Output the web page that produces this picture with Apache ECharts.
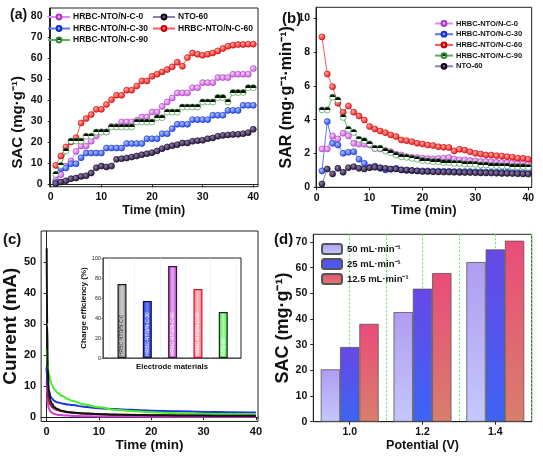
<!DOCTYPE html>
<html><head><meta charset="utf-8">
<script src="https://cdn.jsdelivr.net/npm/echarts@6/dist/echarts.min.js"></script>
<style>html,body{margin:0;padding:0;background:#fff}#c{width:543px;height:456px}</style>
</head><body><div id="c"></div>
<script>
// ---------- DATA ----------
const timeAB = [1,2,3,4,5,6,7,8,9,10,11,12,13,14,15,16,17,18,19,20,21,22,23,24,25,26,27,28,29,30,31,32,33,34,35,36,37,38,39,40];
const seriesNames = ['HRBC-NTO/N-C-0','HRBC-NTO/N-C-30','HRBC-NTO/N-C-60','HRBC-NTO/N-C-90','NTO-60'];
// (a) SAC (mg/g) vs time
const sacC0  = [2,4.6,8.7,11.1,15.7,18.3,18.3,20.5,23,25,25,27.5,27.5,29.7,29.7,29.7,30.5,32,32,34.4,34.4,37.1,39.2,41.1,43.5,43.5,43.5,46,46,48.4,48.4,48.4,50.8,50.8,50.8,52.4,52.4,52.4,52.4,55.1];
const sacC30 = [1,7.5,7.8,9.8,9.8,12.7,14.9,14.9,14.9,14.9,17.3,17.3,17.3,17.3,19.4,19.4,19.4,19.4,21.7,21.7,21.7,24.1,24.1,26.5,28.6,28.6,28.6,30.8,30.8,30.8,30.8,32.9,32.9,32.9,35.2,35.2,35.2,37.6,37.6,37.6];
const sacC60 = [9,13.5,17.8,20.2,22.2,29.2,31.3,33.2,35.7,35.7,38,40.3,42.4,42.4,44.8,44.8,46.8,49.2,49.2,51.4,52.4,53.5,54.6,55.9,58.1,56.2,60.3,62.5,61.9,61.4,61.9,62.5,63.5,64.6,65.7,66.2,66.5,66.5,66.7,66.7];
const sacC90 = [4.8,9,15.9,20.6,20.6,20.6,22.9,22.9,24.9,24.9,24.9,27.3,27.3,27.3,27.3,27.3,29.7,29.7,29.7,29.7,31.7,31.7,34.4,34.4,34.4,36.8,36.8,36.8,36.8,39.2,39.2,39.2,41.3,41.3,39.2,43.7,43.7,43.7,46,46];
const sacNTO = [0.3,1.1,1.7,2.7,3,3.8,4.1,5.4,7.9,8.7,8.3,8.7,11.9,12.2,12.5,13,13.5,14.1,14.6,15.1,15.9,17,17.8,18.4,18.9,19.7,19.7,20.5,20.8,21,21.7,22.1,22.9,23.3,23.5,23.7,23.8,24.1,24.6,26.2];
// (b) SAR (mg/g/min) vs time
const sarC0  = [2.27,2.27,3.04,2.86,3.2,3.04,2.6,2.56,2.54,2.5,2.3,2.27,2.17,2.11,1.97,1.91,1.81,1.78,1.76,1.72,1.7,1.68,1.7,1.72,1.76,1.68,1.62,1.62,1.58,1.56,1.52,1.52,1.52,1.48,1.48,1.46,1.46,1.42,1.42,1.38];
const sarC30 = [0.97,3.89,2.6,2.5,2.01,2.07,2.11,1.66,1.42,1.18,1.26,1.12,1.03,1.07,1.12,1.03,0.99,0.99,0.97,0.97,0.97,0.95,0.96,0.95,0.95,0.93,0.94,0.93,0.93,0.92,0.92,0.91,0.91,0.9,0.9,0.9,0.89,0.89,0.88,0.88];
const sarC60 = [8.9,6.7,5.95,4.97,4.44,4.81,4.44,4.22,3.98,3.59,3.45,3.33,3.23,3.1,3.0,2.8,2.76,2.7,2.6,2.56,2.5,2.47,2.4,2.37,2.35,2.15,2.25,2.2,2.1,2.01,1.97,1.91,1.91,1.87,1.85,1.81,1.78,1.72,1.72,1.66];
const sarC90 = [4.58,4.58,5.33,5.17,4.14,3.43,3.25,2.84,2.76,2.56,2.31,2.31,2.15,2.05,1.91,1.81,1.78,1.72,1.66,1.58,1.56,1.52,1.52,1.46,1.46,1.42,1.42,1.38,1.38,1.36,1.32,1.32,1.28,1.28,1.26,1.26,1.22,1.22,1.22,1.18];
const sarNTO = [0.2,1.08,0.79,1.12,0.89,1.16,1.22,1.12,1.08,1.16,1.18,1.16,1.12,1.08,1.08,1.03,1.03,0.99,0.97,0.93,0.93,0.92,0.91,0.9,0.9,0.89,0.88,0.87,0.87,0.86,0.85,0.85,0.84,0.83,0.82,0.82,0.81,0.8,0.79,0.78];
// (c) current (mA) vs time
const curTime  = [0,0.1,0.2,0.4,0.7,1,1.5,2,3,4,5,7,10,13,16,20,25,30,35,40];
const curBlack = [54.5,30,16,9,5.5,4.3,3.2,2.6,2,1.7,1.5,1.2,0.95,0.8,0.7,0.62,0.55,0.5,0.46,0.42];
const curGreen = [22,19,16.5,14,12,10.5,9,8,6.8,5.9,5.2,4.2,3.2,2.4,2.0,1.6,1.3,1.1,1.0,0.9];
const curBlue  = [16,13,10.5,8.5,6.8,6,5.2,4.8,4.4,4.1,3.9,3.4,2.9,2.6,2.4,2.1,1.9,1.7,1.6,1.5];
const curRed   = [16,12,8,5.2,4,3.3,2.7,2.3,1.9,1.6,1.4,1.2,1,0.85,0.75,0.65,0.55,0.5,0.45,0.4];
const curPink  = [12,7,4.5,2.8,1.9,1.4,1,0.8,0.6,0.5,0.4,0.3,0.25,0.2,0.2,0.15,0.15,0.1,0.1,0.1];
// (c) inset: charge efficiency (%)
const insetNames = ['HRBC-NTO/N-C-0','HRBC-NTO/N-C-30','HRBC-NTO/N-C-60','HRBC-NTO/N-C-90','NTO-60'];
const insetPos = [1,2,3,4,5];
const chargeEff = [74,57,92,69,46];
// (d) SAC vs potential
const potentials = ['1.0','1.2','1.4'];
const flowNames = ['50 mL·min⁻¹','25 mL·min⁻¹','12.5 mL·min⁻¹'];
const sac50  = [20.4,42.7,62.2];
const sac25  = [29.1,51.8,67.1];
const sac125 = [38.1,57.9,70.5];
// tick labels
const ticksTime = [0,10,20,30,40];
const ticksSAC = [0,10,20,30,40,50,60,70,80];
const ticksSAR = [0,2,4,6,8,10];
const ticksCur = [0,10,20,30,40,50];
const ticksD = [0,10,20,30,40,50,60,70];
const insetGrid = [0.5,1.5,2.5,3.5,4.5,5.5];

// ---------- STYLE ----------
const FONT = 'Liberation Sans, Arial, Helvetica, sans-serif';
const ball = (a,b) => ({type:'radial',x:0.35,y:0.35,r:0.75,colorStops:[{offset:0,color:a},{offset:1,color:b}]});
const half = {type:'linear',x:0,y:0,x2:0,y2:1,colorStops:[{offset:0,color:'#000'},{offset:0.5,color:'#111'},{offset:0.5,color:'#fff'},{offset:1,color:'#fff'}]};
const sty = {
  'HRBC-NTO/N-C-0':  {line:'#e08cf0', fill:ball('#f9d0fc','#c050d8'), border:'#a838c0'},
  'HRBC-NTO/N-C-30': {line:'#5878f8', fill:ball('#b0c4ff','#1838e8'), border:'#1030c8'},
  'HRBC-NTO/N-C-60': {line:'#ff5a5a', fill:ball('#ffa8a8','#e80808'), border:'#c80000'},
  'HRBC-NTO/N-C-90': {line:'#5cb05c', fill:half, border:'#2e8e2e'},
  'NTO-60':          {line:'#8a86a8', fill:ball('#9080b0','#180828'), border:'#100018'}
};
const axisLineS = {show:true, lineStyle:{color:'#222', width:1}};
const tickS = {show:true, length:3, lineStyle:{color:'#222'}};
const lblS = (fs) => ({color:'#111', fontFamily:FONT, fontWeight:'bold', fontSize:fs});

function lineSeries(name, xi, xs, ys) {
  const s = sty[name];
  return {type:'line', name, xAxisIndex:xi, yAxisIndex:xi, data: xs.map((t,i)=>[t,ys[i]]),
    symbol:'circle', symbolSize:6, lineStyle:{color:s.line, width:1},
    itemStyle:{color:s.fill, borderColor:s.border, borderWidth:0.6}, emphasis:{disabled:true}, animation:false, z:3};
}
function curveSeries(color, ys) {
  return {type:'line', xAxisIndex:2, yAxisIndex:2, data: curTime.map((t,i)=>[t,ys[i]]),
    smooth:0.4, smoothMonotone:'x', showSymbol:false, symbol:'none', lineStyle:{color, width:2},
    emphasis:{disabled:true}, animation:false, silent:true};
}

const grids = [
  {left:49.5, top:8, width:208.5, height:178.7},
  {left:316, top:7.3, width:215.7, height:180},
  {left:36, top:231, width:222, height:190.5},
  {left:103, top:258, width:138, height:100},
  {left:313.3, top:234.3, width:218.4, height:187.4}
];
grids.forEach((g,i)=>{ g.show = true; g.borderColor = '#222'; g.borderWidth = 1; g.backgroundColor = i===3 ? '#fff' : 'transparent'; g.containLabel=false; });

const chart = echarts.init(document.getElementById('c'), null, {renderer:'canvas'});
const option = {
  animation:false,
  textStyle:{fontFamily:FONT},
  grid: grids,
  xAxis: [
    {gridIndex:0, type:'value', min:-0.24, max:40.93, axisLine:axisLineS, axisTick:{...tickS, customValues:ticksTime},
      axisLabel:{...lblS(10.5), margin:5, customValues:ticksTime}, splitLine:{show:false},
      name:'Time (min)', nameLocation:'middle', nameGap:14, nameTextStyle:lblS(12.5)},
    {gridIndex:1, type:'value', min:-0.13, max:40.64, axisLine:axisLineS, axisTick:{...tickS, customValues:ticksTime},
      axisLabel:{...lblS(10.5), margin:5, customValues:ticksTime}, splitLine:{show:false},
      name:'Time (min)', nameLocation:'middle', nameGap:15, nameTextStyle:lblS(13)},
    {gridIndex:2, type:'value', min:-1.06, max:40.4, axisLine:axisLineS, axisTick:{...tickS, customValues:ticksTime},
      axisLabel:{...lblS(11), margin:5, customValues:ticksTime}, splitLine:{show:false},
      name:'Time (min)', nameLocation:'middle', nameGap:17, nameTextStyle:lblS(13.5)},
    {gridIndex:3, type:'value', min:0.25, max:5.7, axisLine:{show:true, lineStyle:{color:'#444', width:0.8}},
      axisTick:{show:false, customValues:insetGrid}, axisLabel:{show:false},
      splitLine:{show:true, lineStyle:{color:'#cfe6ea', width:0.8, type:'dotted'}},
      name:'Electrode materials', nameLocation:'middle', nameGap:5, nameTextStyle:lblS(7.8)},
    {gridIndex:4, type:'category', data:potentials, axisLine:axisLineS, axisTick:{show:true, length:3, alignWithLabel:true, lineStyle:{color:'#222'}},
      axisLabel:{...lblS(10.5), margin:5}, splitLine:{show:false},
      name:'Potential (V)', nameLocation:'middle', nameGap:17, nameTextStyle:lblS(12.5)},
    {gridIndex:4, type:'value', min:0, max:6, interval:1, show:true, axisLine:{show:false}, axisTick:{show:false}, axisLabel:{show:false},
      splitLine:{show:true, lineStyle:{color:'#66dd66', width:1, type:[2,2]}}}
  ],
  yAxis: [
    {gridIndex:0, type:'value', min:-1.1, max:83.9, axisLine:axisLineS, axisTick:{...tickS, customValues:ticksSAC},
      axisLabel:{...lblS(10.5), margin:7, customValues:ticksSAC}, splitLine:{show:false},
      name:'SAC (mg·g⁻¹)', nameLocation:'middle', nameGap:24, nameTextStyle:{...lblS(15), padding:[0,50,0,0]}},
    {gridIndex:1, type:'value', min:0, max:10.65, axisLine:axisLineS, axisTick:{...tickS, customValues:ticksSAR},
      axisLabel:{...lblS(10.5), margin:6, customValues:ticksSAR}, splitLine:{show:false},
      name:'SAR (mg·g⁻¹·min⁻¹)', nameLocation:'middle', nameGap:20, nameTextStyle:lblS(16)},
    {gridIndex:2, type:'value', min:-1.4, max:60.1, axisLine:axisLineS, axisTick:{...tickS, customValues:ticksCur},
      axisLabel:{...lblS(11), margin:5, customValues:ticksCur}, splitLine:{show:false},
      name:'Current (mA)', nameLocation:'middle', nameGap:14, nameTextStyle:lblS(19)},
    {gridIndex:3, type:'value', min:0, max:100, interval:20, axisLine:{show:true, lineStyle:{color:'#444', width:0.8}},
      axisTick:{show:true, length:1.5, lineStyle:{color:'#444', width:0.6}},
      axisLabel:{color:'#222', fontFamily:FONT, fontSize:5.5, margin:2}, splitLine:{show:false},
      name:'Charge efficiency (%)', nameLocation:'middle', nameGap:11, nameTextStyle:lblS(8)},
    {gridIndex:4, type:'value', min:0, max:73, axisLine:axisLineS, axisTick:{...tickS, customValues:ticksD},
      axisLabel:{...lblS(10.5), margin:6, customValues:ticksD}, splitLine:{show:false},
      name:'SAC (mg·g⁻¹)', nameLocation:'middle', nameGap:18, nameTextStyle:lblS(18)}
  ],
  legend: [
    {left:47, top:12.5, orient:'vertical', itemGap:2.5, itemWidth:22, itemHeight:6, padding:0,
      data:['HRBC-NTO/N-C-0','HRBC-NTO/N-C-30','HRBC-NTO/N-C-90'], textStyle:{...lblS(8.5), padding:[0,0,0,-2]}},
    {left:152, top:12.5, orient:'vertical', itemGap:2.5, itemWidth:22, itemHeight:6, padding:0,
      data:['NTO-60','HRBC-NTO/N-C-60'], textStyle:{...lblS(8.5), padding:[0,0,0,-2]}},
    {left:434, top:19.5, orient:'vertical', itemGap:2.7, itemWidth:18, itemHeight:6, padding:0,
      data:seriesNames, textStyle:{...lblS(7.5), padding:[0,0,0,-2]}},
    {left:321, top:243, orient:'vertical', itemGap:3, itemWidth:20, itemHeight:10, padding:0,
      data:flowNames, textStyle:lblS(9.5)}
  ],
  graphic: [
    {type:'text', left:10, top:8, style:{text:'(a)', font:'bold 14px '+FONT, fill:'#111'}},
    {type:'text', left:282, top:11, style:{text:'(b)', font:'bold 15px '+FONT, fill:'#111'}},
    {type:'text', left:3, top:232, style:{text:'(c)', font:'bold 15px '+FONT, fill:'#111'}},
    {type:'text', left:274, top:232, style:{text:'(d)', font:'bold 15px '+FONT, fill:'#111'}}
  ],
  series: []
};

// (a)
const aData = [sacC0, sacC30, sacC60, sacC90, sacNTO];
seriesNames.forEach((n,i)=>option.series.push(lineSeries(n, 0, timeAB, aData[i])));
// (b)
const bData = [sarC0, sarC30, sarC60, sarC90, sarNTO];
seriesNames.forEach((n,i)=>option.series.push(lineSeries(n, 1, timeAB, bData[i])));
// (c)
option.series.push(curveSeries('#d040d8', curPink));
option.series.push(curveSeries('#a01838', curRed));
option.series.push(curveSeries('#2232e0', curBlue));
option.series.push(curveSeries('#44ee22', curGreen));
option.series.push(curveSeries('#111111', curBlack));
// inset
const hgrad = (edge, mid) => ({type:'linear',x:0,y:0,x2:1,y2:0,colorStops:[{offset:0,color:edge},{offset:0.5,color:mid},{offset:1,color:edge}]});
const insetStyles = [
  {color:hgrad('#8a8a8a','#d0d0d0'), borderColor:'#1a1a1a', lbl:'#222'},
  {color:hgrad('#2232d0','#6a80f8'), borderColor:'#101050', lbl:'#fff'},
  {color:hgrad('#b040c0','#e8a8f4'), borderColor:'#401040', lbl:'#fff'},
  {color:hgrad('#f07088','#fbc0c8'), borderColor:'#e01020', lbl:'#fff'},
  {color:hgrad('#40e040','#b0ffb0'), borderColor:'#103010', lbl:'#fff'}
];
option.series.push({type:'bar', xAxisIndex:3, yAxisIndex:3, barWidth:9, animation:false, silent:true, z:5,
  data: insetPos.map((p,i)=>({value:[p, chargeEff[i]], name:insetNames[i],
    itemStyle:{color:insetStyles[i].color, borderColor:insetStyles[i].borderColor, borderWidth:1.2},
    label:{color:insetStyles[i].lbl}})),
  label:{show:true, position:'insideBottom', rotate:90, align:'left', verticalAlign:'middle', distance:2,
    fontSize:5, fontFamily:FONT, formatter:(p)=>p.name}});
// (d)
const vgrad = (top, bot) => ({type:'linear',x:0,y:0,x2:0,y2:1,colorStops:[{offset:0,color:top},{offset:1,color:bot}]});
const dData = [sac50, sac25, sac125];
const dCols = [vgrad('#b09cf2','#c4c8fc'), vgrad('#6848e6','#3c64f4'), vgrad('#ea4c7a','#d87e6c')];
flowNames.forEach((n,i)=>option.series.push({type:'bar', name:n, xAxisIndex:4, yAxisIndex:4, data:dData[i],
  barWidth:19.3, barGap:'0%', animation:false, itemStyle:{color:dCols[i], borderColor:'#555', borderWidth:0.8}, emphasis:{disabled:true}}));

chart.setOption(option);
</script></body></html>
